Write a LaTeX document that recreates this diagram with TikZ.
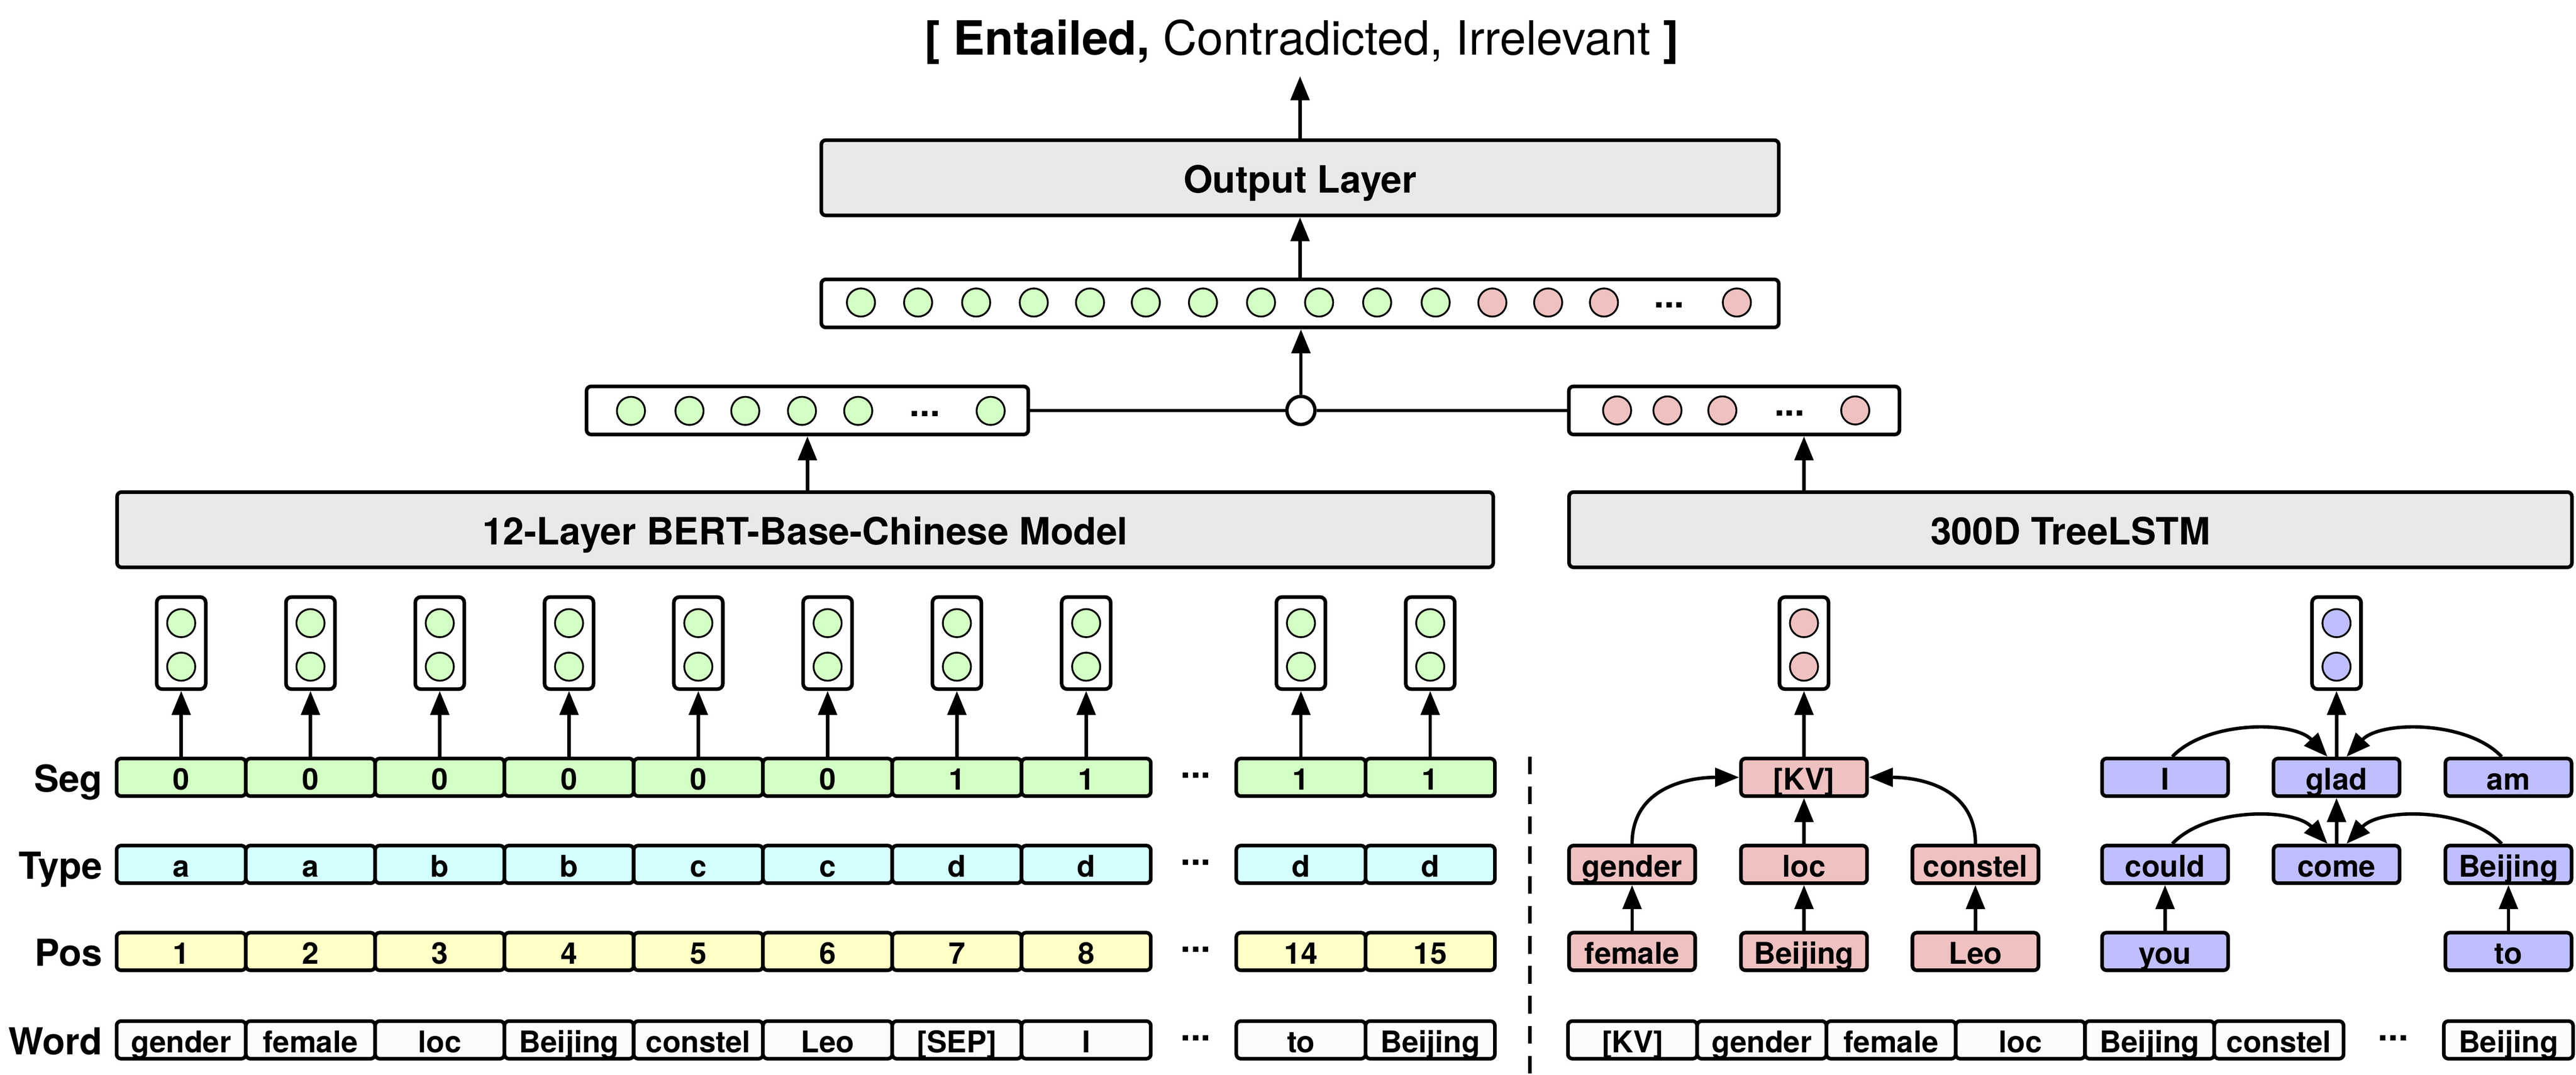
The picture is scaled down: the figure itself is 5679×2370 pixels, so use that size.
\documentclass[tikz,border=0pt]{standalone}
\usepackage{fontspec}
\setmainfont{TeX Gyre Heros}
\usetikzlibrary{arrows.meta}
\definecolor{gfill}{RGB}{212,255,196}
\definecolor{cfill}{RGB}{212,255,255}
\definecolor{yfill}{RGB}{255,255,200}
\definecolor{pfill}{RGB}{239,193,193}
\definecolor{bfill}{RGB}{191,191,255}
\definecolor{grfill}{RGB}{233,233,233}
\definecolor{wfill}{RGB}{252,252,252}
\tikzset{
  bx/.style={draw, line width=0.8pt, rounded corners=1pt, inner sep=0pt, font=\bfseries\fontsize{6.6}{7}\selectfont, text height=5.5pt, text depth=0pt},
  cellbox/.style={bx, minimum width=28.5pt, minimum height=8.3pt},
  treebox/.style={bx, minimum width=27.8pt, minimum height=8.3pt},
  bigbox/.style={draw, line width=0.8pt, rounded corners=1pt, fill=grfill, inner sep=0pt, minimum height=16.6pt, font=\bfseries\fontsize{8.3}{9}\selectfont, text height=6.6pt, text depth=0pt},
  vecbox/.style={draw, line width=0.8pt, rounded corners=1pt, fill=white, inner sep=0pt, minimum height=10.6pt},
  smallcell/.style={draw, line width=0.8pt, rounded corners=1.2pt, fill=white, inner sep=0pt, minimum width=10.8pt, minimum height=20.3pt},
  neuron/.style={circle, draw, line width=0.4pt, inner sep=0pt, minimum size=6.2pt},
  junction/.style={circle, draw, line width=0.75pt, fill=white, inner sep=0pt, minimum size=6.2pt},
  dotsl/.style={inner sep=0pt, font=\bfseries\fontsize{8}{9}\selectfont},
  rowlab/.style={anchor=east, inner sep=0pt, font=\bfseries\fontsize{8.2}{9}\selectfont, text height=6.4pt, text depth=0pt},
  arr/.style={line width=0.75pt, -{Triangle[length=5.3pt,width=4.1pt]}},
  conn/.style={line width=0.75pt},
}
\begin{document}
\begin{tikzpicture}[x=0.1pt,y=0.1pt]
\useasboundingbox (0,0) rectangle (5679,-2370);

% title
\node[anchor=base, inner sep=0pt, font=\fontsize{10.4}{12}\selectfont] (title) at (2870,-121) {{\bfseries [ Entailed,} Contradicted, Irrelevant {\bfseries ]}};
\coordinate (titlept) at (2866,-168);

% output layer
\node[bigbox, minimum width=211.1pt] (out) at (2866,-392) {Output Layer};
\draw[arr] (out.north) -- (titlept);

% top vector
\node[vecbox, minimum width=211.1pt] (topvec) at (2866,-669) {};
\foreach \x in {1898,2024,2152,2279,2403,2526,2652,2780,2908,3036,3165}
  \node[neuron, fill=gfill] at (\x,-667) {};
\foreach \x in {3290,3413,3536,3829}
  \node[neuron, fill=pfill] at (\x,-667) {};
\node[dotsl] at (3680,-673) {...};
\draw[arr] (topvec.north) -- (out.south);

% left and right vectors
\node[vecbox, minimum width=97.4pt] (leftvec) at (1780,-905) {};
\foreach \x in {1391,1520,1643,1768,1892,2184}
  \node[neuron, fill=gfill] at (\x,-906) {};
\node[dotsl] at (2039,-912) {...};

\node[vecbox, minimum width=72.9pt] (rightvec) at (3823,-905) {};
\foreach \x in {3565,3676,3797,4090}
  \node[neuron, fill=pfill] at (\x,-905) {};
\node[dotsl] at (3945,-911) {...};

\node[junction] (junc) at (2868,-905) {};
\draw[conn] (leftvec.east) -- (junc.west);
\draw[conn] (junc.east) -- (rightvec.west);
\draw[arr] (junc.north) -- (junc.north |- topvec.south);

% big models
\node[bigbox, minimum width=303.4pt] (bert) at (1775,-1168) {12-Layer BERT-Base-Chinese Model};
\node[bigbox, minimum width=221.1pt] (tlstm) at (4564.5,-1168) {300D TreeLSTM};
\draw[arr] (bert.north -| leftvec.south) -- (leftvec.south);

% row labels
\node[rowlab] (lseg) at (228,-1714) {Seg};
\node[rowlab] (ltype) at (228,-1906) {Type};
\node[rowlab] (lpos) at (228,-2098) {Pos};
\node[rowlab] (lword) at (228,-2293) {Word};

% BERT input cells
\foreach \i/\x/\s/\t/\p/\w in {1/399.5/0/a/1/gender, 2/684.5/0/a/2/female, 3/969.5/0/b/3/loc, 4/1254.5/0/b/4/Beijing, 5/1539.5/0/c/5/constel, 6/1824.5/0/c/6/Leo, 7/2109.5/1/d/7/{[SEP]}, 8/2394.5/1/d/8/I, 9/2868/1/d/14/to, 10/3153/1/d/15/Beijing} {
  \node[cellbox, fill=gfill] (seg\i) at (\x,-1714) {\s};
  \node[cellbox, fill=cfill] (type\i) at (\x,-1906) {\t};
  \node[cellbox, fill=yfill] (pos\i) at (\x,-2098) {\p};
  \node[cellbox, fill=wfill] (word\i) at (\x,-2293) {\w};
  \node[smallcell] (sc\i) at (\x,-1418) {};
  \node[neuron, fill=gfill] at (\x,-1374) {};
  \node[neuron, fill=gfill] at (\x,-1470) {};
  \draw[arr] (seg\i.north) -- (sc\i.south);
}
\foreach \y in {-1710,-1902,-2094,-2289}
  \node[dotsl] at (2636,\y) {...};

% dashed separator
\coordinate (dtop) at (3373,-1668);
\coordinate (dbot) at (3373,-2370);
\draw[line width=0.8pt, dash pattern=on 3.9pt off 2.7pt] (dtop) -- (dbot);

% right word row
\foreach \i/\x/\w in {1/3599/{[KV]}, 2/3884/gender, 3/4169/female, 4/4454/loc, 5/4739/Beijing, 6/5024/constel, 7/5530/Beijing}
  \node[cellbox, fill=wfill] (rword\i) at (\x,-2293) {\w};
\node[dotsl] at (5276,-2289) {...};

% KV tree (pink)
\node[treebox, fill=pfill] (kv) at (3977,-1714) {[KV]};
\node[treebox, fill=pfill] (gender) at (3598,-1906) {gender};
\node[treebox, fill=pfill] (loc) at (3977,-1906) {loc};
\node[treebox, fill=pfill] (constel) at (4355,-1906) {constel};
\node[treebox, fill=pfill] (female) at (3598,-2098) {female};
\node[treebox, fill=pfill] (pbeijing) at (3977,-2098) {Beijing};
\node[treebox, fill=pfill] (leo) at (4355,-2098) {Leo};
\draw[arr] (female.north) -- (gender.south);
\draw[arr] (pbeijing.north) -- (loc.south);
\draw[arr] (leo.north) -- (constel.south);
\draw[arr] (loc.north) -- (kv.south);
\draw[arr] (gender.north) .. controls +(0,125) and +(-110,0) .. (kv.west);
\draw[arr] (constel.north) .. controls +(0,125) and +(110,0) .. (kv.east);

% sentence tree (blue)
\node[treebox, fill=bfill] (ti) at (4773,-1714) {I};
\node[treebox, fill=bfill] (glad) at (5151,-1714) {glad};
\node[treebox, fill=bfill] (am) at (5530,-1714) {am};
\node[treebox, fill=bfill] (could) at (4773,-1906) {could};
\node[treebox, fill=bfill] (come) at (5151,-1906) {come};
\node[treebox, fill=bfill] (tbeijing) at (5530,-1906) {Beijing};
\node[treebox, fill=bfill] (you) at (4773,-2098) {you};
\node[treebox, fill=bfill] (to) at (5530,-2098) {to};
\draw[arr] (you.north) -- (could.south);
\draw[arr] (to.north) -- (tbeijing.south);
\draw[arr] (come.north) -- (glad.south);
\draw[arr] ([xshift=1.6pt]ti.north) .. controls +(75,80) and +(-75,80) .. ([xshift=-2pt]glad.north);
\draw[arr] ([xshift=-1.5pt]am.north) .. controls +(-75,80) and +(75,80) .. ([xshift=2.2pt]glad.north);
\draw[arr] ([xshift=1.6pt]could.north) .. controls +(75,80) and +(-75,80) .. ([xshift=-2pt]come.north);
\draw[arr] ([xshift=-1.5pt]tbeijing.north) .. controls +(-75,80) and +(75,80) .. ([xshift=2.2pt]come.north);

% tree output cells
\node[smallcell] (kvcell) at (3977,-1418) {};
\node[neuron, fill=pfill] at (3977,-1374) {};
\node[neuron, fill=pfill] at (3977,-1470) {};
\node[smallcell] (gladcell) at (5151,-1418) {};
\node[neuron, fill=bfill] at (5151,-1374) {};
\node[neuron, fill=bfill] at (5151,-1470) {};
\draw[arr] (kv.north) -- (kvcell.south);
\draw[arr] (glad.north) -- (gladcell.south);
\draw[arr] (tlstm.north -| kvcell.south) -- (rightvec.south -| kvcell.south);
\end{tikzpicture}
\end{document}
